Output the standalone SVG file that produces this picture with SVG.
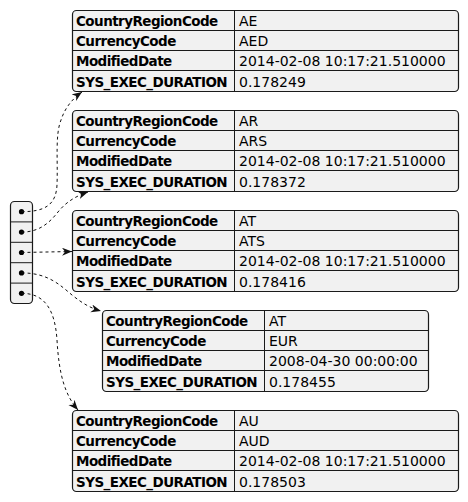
<svg xmlns="http://www.w3.org/2000/svg" width="468" height="502" viewBox="0 0 468 502">
<style>
.box{fill:#f1f1f1;stroke:#1a1a1a;stroke-width:1.2}
.ln{stroke:#1a1a1a;stroke-width:1;fill:none}
.k{font-family:"DejaVu Sans",sans-serif;font-weight:bold;font-size:13.5px;letter-spacing:-0.55px;fill:#000}
.v{font-family:"DejaVu Sans",sans-serif;font-size:14px;fill:#000}
.edge{fill:none;stroke:#111;stroke-width:1;stroke-dasharray:3,3}
.dot{fill:#000}
</style>
<defs>
<marker id="ah" markerUnits="userSpaceOnUse" markerWidth="11" markerHeight="9" refX="10" refY="4" orient="auto">
<path d="M0,0 L10,4 L0,8 L3,4 z" fill="#111"/>
</marker>
</defs>

<g id="array">
<rect class="box" x="10.5" y="201.5" width="22" height="102" rx="4"/>
<path class="ln" d="M10.5,221.9H32.5M10.5,242.3H32.5M10.5,262.7H32.5M10.5,283.1H32.5"/>
<circle class="dot" cx="21.5" cy="211.7" r="2.6"/>
<circle class="dot" cx="21.5" cy="232.1" r="2.6"/>
<circle class="dot" cx="21.5" cy="252.5" r="2.6"/>
<circle class="dot" cx="21.5" cy="272.9" r="2.6"/>
<circle class="dot" cx="21.5" cy="293.3" r="2.6"/>
</g>

<g id="row1">
<rect class="box" x="72.5" y="10.5" width="386" height="81" rx="4"/>
<path class="ln" d="M72.5,30.5H458.5M72.5,50.5H458.5M72.5,70.5H458.5M234.5,10.5V91.5"/>
<text class="k" x="76" y="26">CountryRegionCode</text>
<text class="k" x="76" y="46">CurrencyCode</text>
<text class="k" x="76" y="66">ModifiedDate</text>
<text class="k" x="76" y="86.5">SYS_EXEC_DURATION</text>
<text class="v" x="239" y="26">AE</text>
<text class="v" x="239" y="46">AED</text>
<text class="v" x="239" y="66">2014-02-08 10:17:21.510000</text>
<text class="v" x="239" y="86.5">0.178249</text>
</g>

<g id="row2">
<rect class="box" x="72.5" y="110.5" width="386" height="81" rx="4"/>
<path class="ln" d="M72.5,130.5H458.5M72.5,150.5H458.5M72.5,170.5H458.5M234.5,110.5V191.5"/>
<text class="k" x="76" y="126">CountryRegionCode</text>
<text class="k" x="76" y="146">CurrencyCode</text>
<text class="k" x="76" y="166">ModifiedDate</text>
<text class="k" x="76" y="186.5">SYS_EXEC_DURATION</text>
<text class="v" x="239" y="126">AR</text>
<text class="v" x="239" y="146">ARS</text>
<text class="v" x="239" y="166">2014-02-08 10:17:21.510000</text>
<text class="v" x="239" y="186.5">0.178372</text>
</g>

<g id="row3">
<rect class="box" x="72.5" y="210.5" width="386" height="81" rx="4"/>
<path class="ln" d="M72.5,230.5H458.5M72.5,250.5H458.5M72.5,270.5H458.5M234.5,210.5V291.5"/>
<text class="k" x="76" y="226">CountryRegionCode</text>
<text class="k" x="76" y="246">CurrencyCode</text>
<text class="k" x="76" y="266">ModifiedDate</text>
<text class="k" x="76" y="286.5">SYS_EXEC_DURATION</text>
<text class="v" x="239" y="226">AT</text>
<text class="v" x="239" y="246">ATS</text>
<text class="v" x="239" y="266">2014-02-08 10:17:21.510000</text>
<text class="v" x="239" y="286.5">0.178416</text>
</g>

<g id="row4">
<rect class="box" x="102.5" y="310.5" width="326" height="81" rx="4"/>
<path class="ln" d="M102.5,330.5H428.5M102.5,350.5H428.5M102.5,370.5H428.5M264.5,310.5V391.5"/>
<text class="k" x="106" y="326">CountryRegionCode</text>
<text class="k" x="106" y="346">CurrencyCode</text>
<text class="k" x="106" y="366">ModifiedDate</text>
<text class="k" x="106" y="386.5">SYS_EXEC_DURATION</text>
<text class="v" x="269" y="326">AT</text>
<text class="v" x="269" y="346">EUR</text>
<text class="v" x="269" y="366">2008-04-30 00:00:00</text>
<text class="v" x="269" y="386.5">0.178455</text>
</g>

<g id="row5">
<rect class="box" x="72.5" y="410.5" width="386" height="81" rx="4"/>
<path class="ln" d="M72.5,430.5H458.5M72.5,450.5H458.5M72.5,470.5H458.5M234.5,410.5V491.5"/>
<text class="k" x="76" y="426">CountryRegionCode</text>
<text class="k" x="76" y="446">CurrencyCode</text>
<text class="k" x="76" y="466">ModifiedDate</text>
<text class="k" x="76" y="486.5">SYS_EXEC_DURATION</text>
<text class="v" x="239" y="426">AU</text>
<text class="v" x="239" y="446">AUD</text>
<text class="v" x="239" y="466">2014-02-08 10:17:21.510000</text>
<text class="v" x="239" y="486.5">0.178503</text>
</g>

<g id="connectors">
<path class="edge" marker-end="url(#ah)" d="M21.5,211.7 C45,211.7 56,205 57,185 C58,160 55,135 61,120 C65,108 72,99 82,92"/>
<path class="edge" marker-end="url(#ah)" d="M21.5,232.1 C40,232.1 50,222 58,212 C66,202 76,196 88,192"/>
<path class="edge" marker-end="url(#ah)" d="M21.5,252.5 L72,251.5"/>
<path class="edge" marker-end="url(#ah)" d="M21.5,272.9 C48,272.9 60,285 72,295 C82,303 90,308 101,311"/>
<path class="edge" marker-end="url(#ah)" d="M21.5,293.3 C45,293.3 55,310 57,340 C59,375 65,395 78,410"/>
</g>
</svg>
